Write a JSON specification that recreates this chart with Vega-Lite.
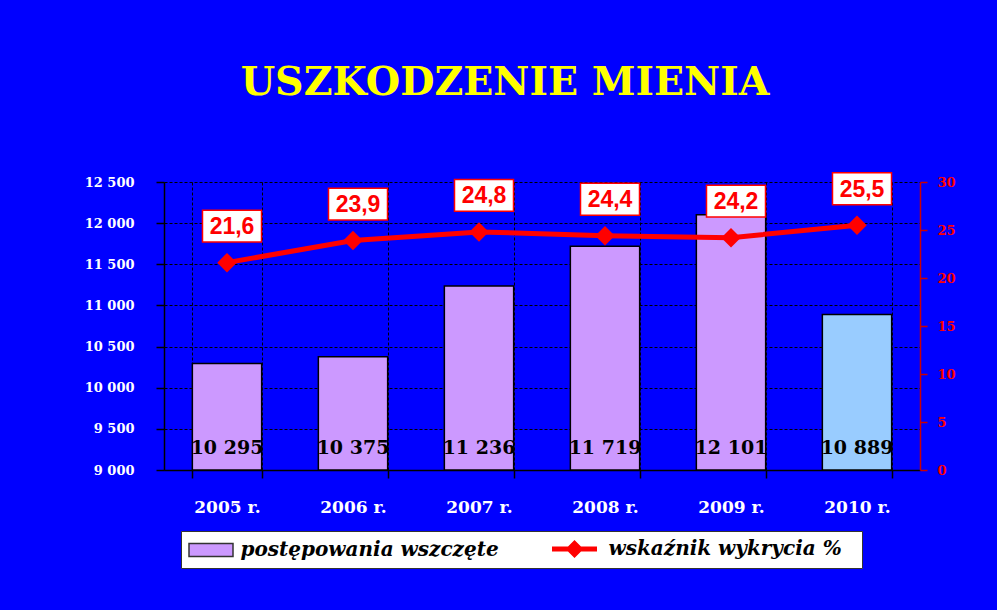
{
  "$schema": "https://vega.github.io/schema/vega-lite/v6.json",
  "width": 756,
  "height": 288,
  "autosize": {"type": "none"},
  "padding": {"left": 164, "top": 182, "right": 77, "bottom": 140},
  "background": "#0000ff",
  "title": {
    "text": "USZKODZENIE MIENIA",
    "color": "#ffff00",
    "font": "DejaVu Serif",
    "fontWeight": "bold",
    "fontSize": 39.5,
    "anchor": "middle",
    "frame": "group",
    "dx": -37,
    "offset": 35,
    "baseline": "alphabetic"
  },
  "data": {
    "values": [
      {"rok": "2005 r.", "postepowania": 10295, "wskaznik": 21.6},
      {"rok": "2006 r.", "postepowania": 10375, "wskaznik": 23.9},
      {"rok": "2007 r.", "postepowania": 11236, "wskaznik": 24.8},
      {"rok": "2008 r.", "postepowania": 11719, "wskaznik": 24.4},
      {"rok": "2009 r.", "postepowania": 12101, "wskaznik": 24.2},
      {"rok": "2010 r.", "postepowania": 10889, "wskaznik": 25.5}
    ]
  },
  "encoding": {
    "x": {
      "field": "rok",
      "type": "nominal",
      "sort": null,
      "scale": {"paddingInner": 0.45, "paddingOuter": 0.225},
      "axis": {
        "title": null,
        "labelAngle": 0,
        "tickBand": "extent",
        "grid": true,
        "gridColor": "#000000",
        "gridDash": [3, 2],
        "gridWidth": 1,
        "domainColor": "#000000",
        "domainWidth": 1.5,
        "tickColor": "#000000",
        "tickWidth": 1.5,
        "tickSize": 8,
        "labelColor": "#ffffff",
        "labelFont": "DejaVu Serif",
        "labelFontWeight": "bold",
        "labelFontSize": 17,
        "labelPadding": 21
      }
    }
  },
  "layer": [
    {
      "encoding": {
        "y": {
          "field": "postepowania",
          "type": "quantitative",
          "scale": {"domain": [9000, 12500], "zero": false, "nice": false},
          "axis": {
            "title": null,
            "values": [9000, 9500, 10000, 10500, 11000, 11500, 12000, 12500],
            "format": ",.0f",
            "grid": true,
            "gridColor": "#000000",
            "gridDash": [3, 2],
            "gridWidth": 1,
            "domainColor": "#000000",
            "domainWidth": 1.5,
            "tickColor": "#000000",
            "tickWidth": 1.5,
            "tickSize": 8,
            "labelColor": "#ffffff",
            "labelFont": "DejaVu Serif",
            "labelFontWeight": "bold",
            "labelFontSize": 13,
            "labelPadding": 22
          }
        }
      },
      "layer": [
        {
          "mark": {"type": "bar", "stroke": "#000000", "strokeWidth": 1.5, "opacity": 1},
          "encoding": {
            "y2": {"datum": 9000},
            "fill": {
              "condition": {"test": "datum.rok === '2010 r.'", "value": "#99ccff"},
              "datum": "postępowania wszczęte",
              "type": "nominal",
              "scale": {"domain": ["postępowania wszczęte"], "range": ["#cc99ff"]},
              "legend": {
                "title": null,
                "orient": "none",
                "legendX": 17,
                "legendY": 349,
                "direction": "horizontal",
                "fillColor": "#ffffff",
                "strokeColor": "#333333",
                "padding": 8,
                "labelFont": "DejaVu Serif",
                "labelFontStyle": "italic",
                "labelFontWeight": "bold",
                "labelFontSize": 20,
                "labelColor": "#000000",
                "labelLimit": 1000,
                "labelExpr": "datum.label + '\u00a0\u00a0\u00a0\u00a0\u00a0\u00a0\u00a0\u00a0\u00a0\u00a0\u00a0\u00a0\u00a0\u00a0\u00a0\u00a0\u00a0\u00a0\u00a0\u00a0\u00a0\u00a0\u00a0\u00a0\u00a0\u00a0\u00a0\u00a0\u00a0\u00a0\u00a0\u00a0\u00a0\u00a0\u00a0\u00a0\u00a0\u00a0\u00a0\u00a0\u00a0\u00a0\u00a0\u00a0\u00a0\u00a0\u00a0\u00a0\u00a0\u00a0\u00a0\u200b'",
                "symbolType": "M-2.2,-0.65L2.2,-0.65L2.2,0.65L-2.2,0.65Z",
                "symbolSize": 400,
                "symbolStrokeColor": "#333333",
                "symbolStrokeWidth": 1.5,
                "symbolOpacity": 1,
                "symbolOffset": 11,
                "labelOffset": 18.5
              }
            }
          }
        },
        {
          "mark": {"type": "text", "baseline": "alphabetic", "dy": -16, "font": "DejaVu Serif", "fontWeight": "bold", "fontSize": 19, "color": "#000000"},
          "encoding": {
            "y": {"datum": 9000},
            "text": {"field": "postepowania", "type": "quantitative", "format": ",.0f"}
          }
        }
      ]
    },
    {
      "encoding": {
        "y": {
          "field": "wskaznik",
          "type": "quantitative",
          "scale": {"domain": [0, 30], "nice": false},
          "axis": {
            "title": null,
            "orient": "right",
            "values": [0, 5, 10, 15, 20, 25, 30],
            "grid": false,
            "domainColor": "#cc0000",
            "domainWidth": 1.5,
            "tickColor": "#cc0000",
            "tickWidth": 1.5,
            "tickSize": 7,
            "labelColor": "#ff0000",
            "labelFont": "DejaVu Serif",
            "labelFontWeight": "bold",
            "labelFontSize": 13,
            "labelPadding": 10
          }
        }
      },
      "layer": [
        {
          "mark": {"type": "line", "strokeWidth": 5, "color": "#ff0000"}
        },
        {
          "mark": {"type": "point", "shape": "diamond", "filled": true, "size": 380, "opacity": 1},
          "encoding": {
            "fill": {
              "datum": "wskaźnik wykrycia %",
              "type": "nominal",
              "scale": {"domain": ["wskaźnik wykrycia %"], "range": ["#ff0000"]},
              "legend": {
                "title": null,
                "orient": "none",
                "legendX": 380,
                "legendY": 349,
                "direction": "horizontal",
                "fillColor": null,
                "strokeColor": null,
                "padding": 8,
                "labelFont": "DejaVu Serif",
                "labelFontStyle": "italic",
                "labelFontWeight": "bold",
                "labelFontSize": 20,
                "labelColor": "#000000",
                "labelLimit": 1000,
                "symbolType": "M-2.25,-0.25L-0.65,-0.25L0,-0.9L0.65,-0.25L2.25,-0.25L2.25,0.25L0.65,0.25L0,0.9L-0.65,0.25L-2.25,0.25Z",
                "symbolSize": 400,
                "symbolStrokeWidth": 0,
                "symbolOpacity": 1,
                "symbolOffset": 12.5,
                "labelOffset": 24
              }
            }
          }
        },
        {
          "mark": {"type": "point", "shape": "M-1,-0.54L1,-0.54L1,0.54L-1,0.54Z", "filled": true, "fill": "#ffffff", "stroke": "#ff0000", "strokeWidth": 1.5, "size": 3481, "xOffset": 5, "yOffset": -36.5, "opacity": 1, "fillOpacity": 1, "strokeOpacity": 1}
        },
        {
          "mark": {"type": "text", "font": "Liberation Sans", "fontWeight": "bold", "fontSize": 23, "color": "#ff0000", "xOffset": 5, "yOffset": -35.5, "baseline": "middle"},
          "encoding": {
            "text": {"field": "wskaznik", "type": "quantitative", "format": ".1f"}
          }
        }
      ]
    }
  ],
  "resolve": {"scale": {"y": "independent", "fill": "independent"}, "legend": {"fill": "independent"}},
  "config": {
    "view": {"stroke": null},
    "locale": {
      "number": {"decimal": ",", "thousands": " ", "grouping": [3], "currency": ["", ""]}
    }
  }
}
